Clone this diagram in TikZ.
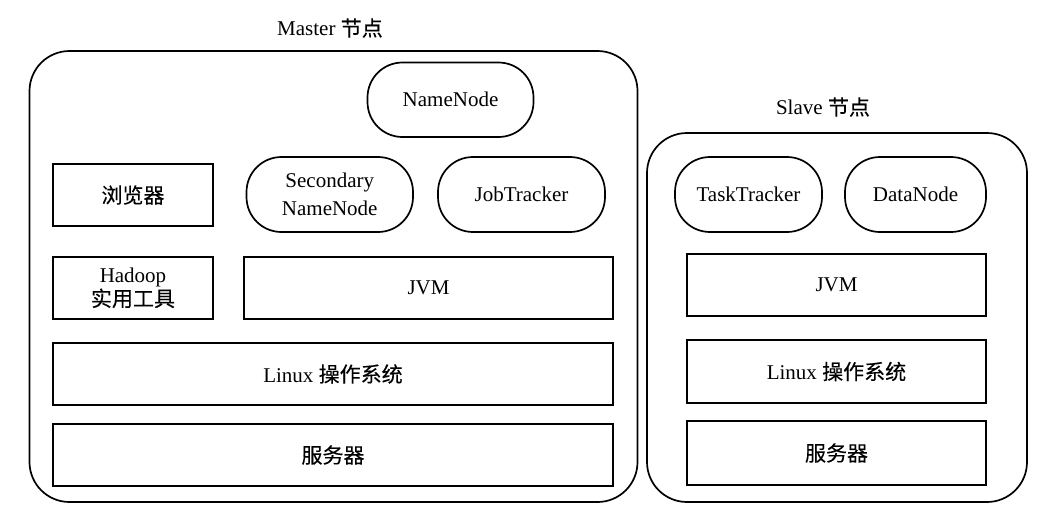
\documentclass[tikz,border=0pt]{standalone}
\usepackage{fontspec}
\setmainfont{Liberation Serif}
\newfontfamily\zh[FakeBold=0.3]{Noto Sans CJK SC}
\begin{document}
\begin{tikzpicture}[x=1pt,y=-1pt,
  every node/.style={font=\fontsize{21}{24}\selectfont, align=center, inner sep=0pt},
  outerbox/.style={draw, line width=1.7pt, rounded corners=40pt},
  layerbox/.style={draw, line width=1.7pt},
  pill/.style={draw, line width=1.7pt, rounded corners=35pt},
  caption/.style={}]
\useasboundingbox (0,0) rectangle (1060,523);
% Master
\node[outerbox, minimum width=608pt, minimum height=451pt] (master) at (333.5,276.5) {};
\node[caption] (mlabel) at (330,28) {Master {\zh 节点}};
\node[pill, minimum width=166pt, minimum height=74.5pt] (nn) at (450.5,99.75) {NameNode};
\node[layerbox, minimum width=160pt, minimum height=62pt] (br) at (133,195) {\zh 浏览器};
\node[pill, minimum width=166.5pt, minimum height=75pt] (snn) at (329.75,194.5) {Secondary\\[4pt]NameNode};
\node[pill, minimum width=167pt, minimum height=75pt] (jt) at (521.5,194.5) {JobTracker};
\node[layerbox, minimum width=160pt, minimum height=62pt] (hu) at (133,288) {Hadoop\\[0pt]{\zh 实用工具}};
\node[layerbox, minimum width=369pt, minimum height=62pt] (mjvm) at (428.5,288) {JVM};
\node[layerbox, minimum width=560pt, minimum height=62pt] (mos) at (333,374) {Linux {\zh 操作系统}};
\node[layerbox, minimum width=560pt, minimum height=62pt] (msrv) at (333,455) {\zh 服务器};
% Slave
\node[outerbox, minimum width=380pt, minimum height=369pt] (slave) at (837,317.5) {};
\node[caption] (slabel) at (823,107) {Slave {\zh 节点}};
\node[pill, minimum width=147pt, minimum height=75pt] (tt) at (748.5,194.5) {TaskTracker};
\node[pill, minimum width=141pt, minimum height=75pt] (dn) at (915.5,194.5) {DataNode};
\node[layerbox, minimum width=299pt, minimum height=62pt] (sjvm) at (836.5,285) {JVM};
\node[layerbox, minimum width=299pt, minimum height=63pt] (sos) at (836.5,371.5) {Linux {\zh 操作系统}};
\node[layerbox, minimum width=299pt, minimum height=64pt] (ssrv) at (836.5,453) {\zh 服务器};
\end{tikzpicture}
\end{document}
